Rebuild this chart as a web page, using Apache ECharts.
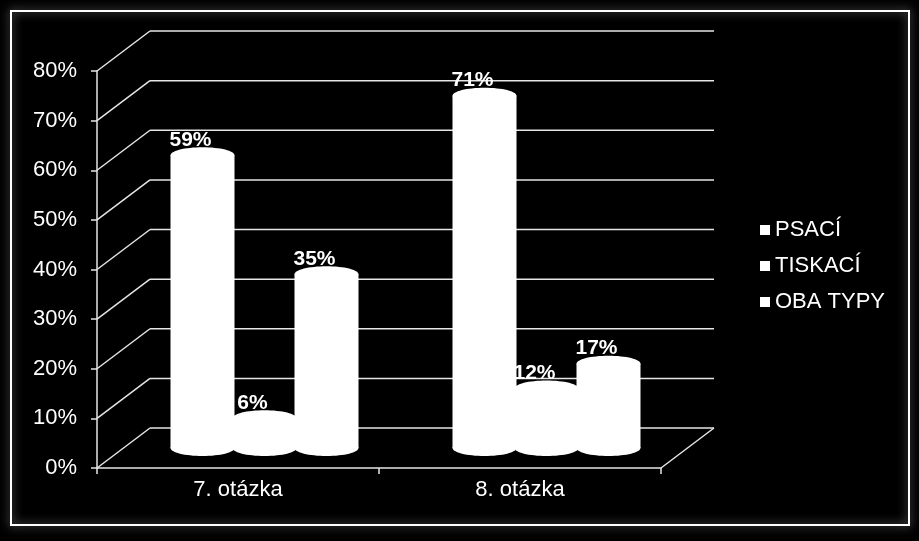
<!DOCTYPE html>
<html>
<head>
<meta charset="utf-8">
<script src="https://cdn.jsdelivr.net/npm/echarts@6/dist/echarts.min.js"></script>
<style>
  html, body { margin: 0; padding: 0; background: #000; }
  #chart { width: 919px; height: 541px; }
</style>
</head>
<body>
<div id="chart"></div>
<script>
// data
const categories = ['7. otázka', '8. otázka']
const seriesNames = ['PSACÍ', 'TISKACÍ', 'OBA TYPY']
const psaci = [59, 71]
const tiskaci = [6, 12]
const obaTypy = [35, 17]
const yTicks = [0, 10, 20, 30, 40, 50, 60, 70, 80]

const FONT = 'Liberation Sans, Arial, sans-serif'
// 3d depth of the chart floor
const DEPTH_X = 53
const DEPTH_Y = -40
const LINE = '#e6e6e6'

let chart = echarts.init(document.getElementById('chart'))

// back wall lines + diagonals to the front axis
function renderWalls(params, api) {
  let cs = params.coordSys
  let x0 = cs.x
  let x1 = cs.x + cs.width
  let children = []
  yTicks.forEach(v => {
    let y = api.coord([0, v])[1]
    children.push({
      type: 'line',
      shape: {x1: x0, y1: y, x2: x0 + DEPTH_X, y2: y + DEPTH_Y},
      style: {stroke: LINE, lineWidth: 1.5}
    })
    children.push({
      type: 'line',
      shape: {x1: x0 + DEPTH_X, y1: y + DEPTH_Y, x2: x1 + DEPTH_X, y2: y + DEPTH_Y},
      style: {stroke: LINE, lineWidth: 1.5}
    })
  })
  let yb = api.coord([0, 0])[1]
  children.push({
    type: 'line',
    shape: {x1: x1, y1: yb, x2: x1 + DEPTH_X, y2: yb + DEPTH_Y},
    style: {stroke: LINE, lineWidth: 1.5}
  })
  return {type: 'group', children: children}
}

// white cylinder at half depth
function cylinderRenderer(k) {
  return function (params, api) {
    let cat = api.value(0)
    let val = api.value(1)
    let top = api.coord([cat, val])
    let base = api.coord([cat, 0])
    let cx = top[0] + (k - 1) * 62 + DEPTH_X / 2
    let ty = top[1] + DEPTH_Y / 2
    let by = base[1] + DEPTH_Y / 2
    let rx = 32, ry = 8
    return {
      type: 'group',
      children: [
        {type: 'rect', shape: {x: cx - rx, y: ty, width: rx * 2, height: by - ty}, style: {fill: '#fff'}},
        {type: 'ellipse', shape: {cx: cx, cy: by, rx: rx, ry: ry}, style: {fill: '#fff'}},
        {type: 'ellipse', shape: {cx: cx, cy: ty, rx: rx, ry: ry}, style: {fill: '#fff'}},
        {
          type: 'text',
          z2: 10,
          style: {
            x: cx - 12, y: ty - ry + 3,
            text: val + '%',
            fill: '#fff',
            font: 'bold 21px ' + FONT,
            align: 'center',
            verticalAlign: 'bottom'
          }
        }
      ]
    }
  }
}

function makeData(arr) {
  return arr.map((v, i) => [i, v])
}

let option = {
  backgroundColor: '#000',
  animation: false,
  graphic: [
    {
      type: 'rect',
      shape: {x: 11, y: 11, width: 898, height: 514},
      style: {
        fill: 'transparent', stroke: '#fff', lineWidth: 2,
        shadowBlur: 10, shadowColor: 'rgba(190,190,190,0.8)'
      },
      z: -1
    }
  ],
  grid: {left: 97, top: 71, width: 564, height: 397},
  legend: {
    orient: 'vertical',
    left: 755,
    top: 214,
    itemWidth: 10,
    itemHeight: 10,
    itemGap: 14,
    icon: 'rect',
    data: seriesNames,
    textStyle: {color: '#fff', fontSize: 22, fontFamily: FONT}
  },
  xAxis: {
    type: 'category',
    data: categories,
    axisLine: {lineStyle: {color: LINE, width: 1.5}},
    axisTick: {show: true, length: 6, lineStyle: {color: LINE, width: 1.5}},
    axisLabel: {color: '#fff', fontSize: 22, fontFamily: FONT, margin: 11}
  },
  yAxis: {
    type: 'value',
    min: 0,
    max: 80,
    interval: 10,
    axisLine: {show: true, lineStyle: {color: LINE, width: 1.5}},
    axisTick: {show: true, length: 6, lineStyle: {color: LINE, width: 1.5}},
    axisLabel: {color: '#fff', fontSize: 22, fontFamily: FONT, margin: 20, formatter: '{value}%'},
    splitLine: {show: false}
  },
  series: [
    {
      type: 'custom',
      name: 'walls',
      silent: true,
      z: 1,
      renderItem: renderWalls,
      data: [[0, 0]]
    },
    {type: 'custom', name: seriesNames[0], z: 2, itemStyle: {color: '#fff'}, renderItem: cylinderRenderer(0), data: makeData(psaci)},
    {type: 'custom', name: seriesNames[1], z: 3, itemStyle: {color: '#fff'}, renderItem: cylinderRenderer(1), data: makeData(tiskaci)},
    {type: 'custom', name: seriesNames[2], z: 4, itemStyle: {color: '#fff'}, renderItem: cylinderRenderer(2), data: makeData(obaTypy)}
  ]
}

chart.setOption(option)
</script>
</body>
</html>
